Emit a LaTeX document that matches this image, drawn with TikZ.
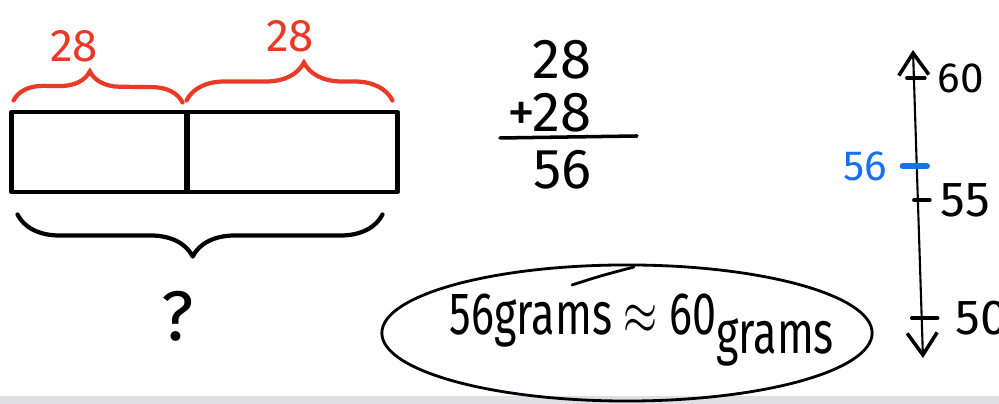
\documentclass[tikz,border=0pt]{standalone}
\usepackage{fontspec}
\setmainfont{Fira Sans}
\usetikzlibrary{arrows.meta,decorations.pathreplacing,calc}
\definecolor{penred}{RGB}{232,58,38}
\definecolor{penblue}{RGB}{22,112,240}
\definecolor{bargray}{RGB}{224,224,228}
\tikzset{
  pen/.style={line width=1.4pt, line cap=round, line join=round},
  barbox/.style={draw, pen, minimum height=0.8cm, inner sep=0pt},
  redbrace/.style={penred, line width=1.2pt, line cap=round, decorate},
  numlab/.style={inner sep=0pt, font=\fontsize{12}{14}\selectfont},
  sumlab/.style={inner sep=0pt, anchor=east, font=\fontsize{16}{19}\selectfont},
  tickmark/.style={line width=1pt, line cap=round}
}
\begin{document}
\begin{tikzpicture}[x=0.01cm, y=-0.01cm]
\useasboundingbox (0,0) rectangle (999,404);
\fill[bargray] (0,396) rectangle (999,404);
% tape diagram
\node[barbox, minimum width=1.75cm] (lbox) at (99.5,152) {};
\node[barbox, minimum width=2.1cm] (rbox) at (292,152) {};
\draw[redbrace, decoration={brace, amplitude=0.3cm, aspect=0.45}]
  ([shift={(0.04cm,0.09cm)}]lbox.north west) -- ([shift={(-0.07cm,0.07cm)}]lbox.north east);
\draw[redbrace, decoration={brace, amplitude=0.38cm, aspect=0.57}]
  ([shift={(0.02cm,0.09cm)}]rbox.north west) -- ([shift={(-0.07cm,0.09cm)}]rbox.north east);
\node[numlab, text=penred, font=\fontsize{13}{15}\selectfont] (partl) at (74,46) {28};
\node[numlab, text=penred, font=\fontsize{13}{15}\selectfont] (partr) at (290,36) {28};
\draw[pen, line width=1.2pt, decorate, decoration={brace, amplitude=0.42cm, aspect=0.52}]
  ([shift={(-0.17cm,-0.2cm)}]rbox.south east) -- ([shift={(0.08cm,-0.2cm)}]lbox.south west);
\node[font=\fontsize{20}{24}\selectfont] (whole) at (178,316) {?};
% column addition
\node[sumlab] (addtop) at (592,60) {28};
\node[sumlab] (addmid) at (592,113) {+28};
\draw[pen, line width=1pt] (500,138) -- (637,136);
\node[sumlab] (addsum) at (592,170) {56};
% number line
\coordinate (nltop) at (913,50);
\coordinate (nlbot) at (923,358);
\draw[line width=0.6pt, {Straight Barb[length=2.2mm,width=3mm,line width=1pt]}-{Straight Barb[length=2.2mm,width=3mm,line width=1pt]}] (nltop) -- (nlbot);
\coordinate (t60) at ($(nltop)!0.091!(nlbot)$);
\coordinate (t56) at ($(nltop)!0.377!(nlbot)$);
\coordinate (t55) at ($(nltop)!0.487!(nlbot)$);
\coordinate (t50) at ($(nltop)!0.870!(nlbot)$);
\draw[tickmark] ([xshift=-0.07cm]t60) -- ([xshift=0.11cm]t60);
\draw[tickmark, penblue, line width=1.8pt] ([xshift=-0.14cm]t56) -- ([xshift=0.1cm]t56);
\draw[tickmark] ([xshift=-0.04cm]t55) -- ([xshift=0.12cm]t55);
\draw[tickmark] ([xshift=-0.1cm]t50) -- ([xshift=0.16cm]t50);
\node[numlab, anchor=west] (l60) at ([xshift=0.23cm]t60) {60};
\node[numlab, anchor=east, text=penblue] (l56) at ([xshift=-0.29cm]t56) {56};
\node[numlab, anchor=west, font=\fontsize{14}{16}\selectfont] (l55) at ([xshift=0.22cm]t55) {55};
\node[numlab, anchor=west, font=\fontsize{14}{16}\selectfont] (l50) at ([xshift=0.33cm]t50) {50};
% rounded answer
\node[inner sep=0pt, font=\fontsize{17}{20}\selectfont] (answer) at (642,330)
  {\scalebox{0.72}[1]{56grams $\approx$ 60\raisebox{-0.6ex}{grams}}};
\draw[line width=0.8pt] ($(answer.center)+(-15,3)$) ellipse [x radius=2.45cm, y radius=0.68cm];
\draw[line width=0.8pt, line cap=round] (572,285) .. controls (600,276) .. (634,267);
\end{tikzpicture}
\end{document}
